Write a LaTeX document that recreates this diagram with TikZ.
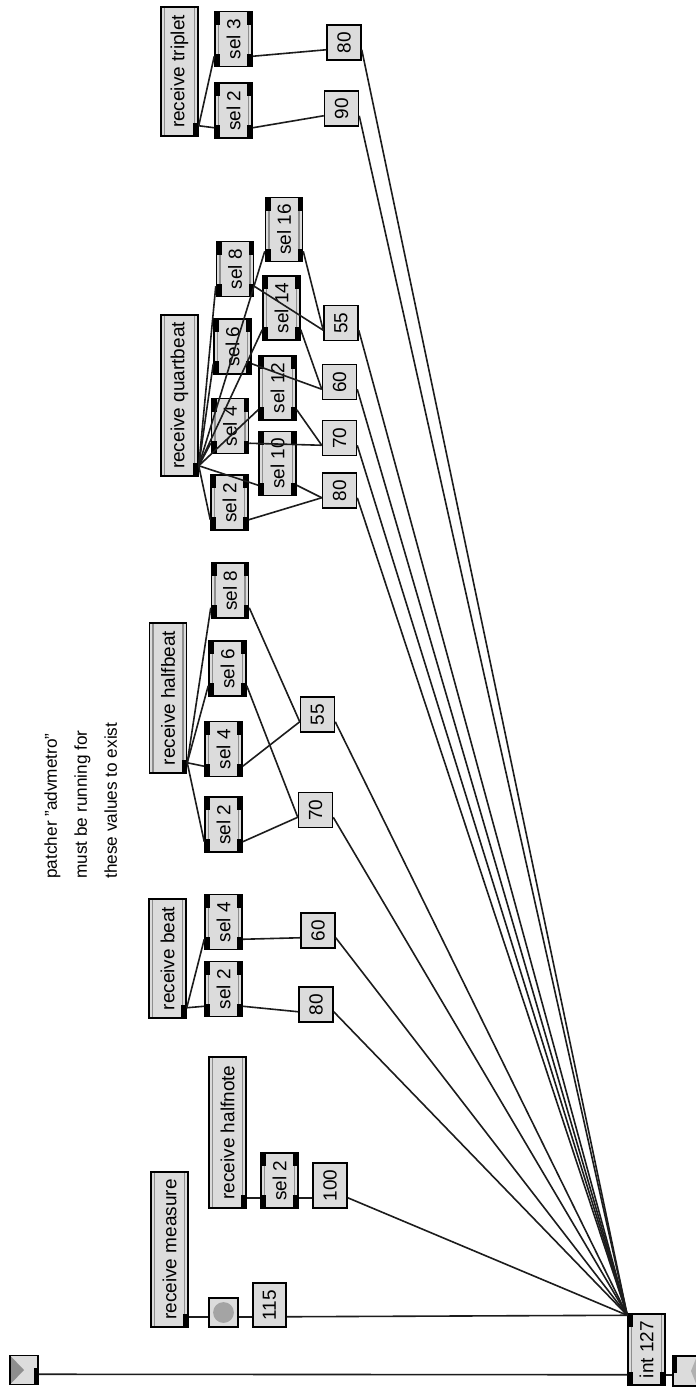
\documentclass[tikz,border=0pt]{standalone}
\usepackage{fontspec}
\setmainfont{Liberation Sans}
\usepackage{graphicx}
\usetikzlibrary{positioning,calc}
\definecolor{boxgray}{HTML}{DCDCDC}
\definecolor{stripe}{HTML}{8E8E8E}
\definecolor{knob}{HTML}{A4A4A4}
\definecolor{wirec}{HTML}{1C1C1C}
\newcommand{\rot}[1]{\rotatebox{90}{#1}}
% outlet / inlet points of a patcher box (box drawn turned by 90 degrees)
\newcommand{\outp}[1]{([yshift=5.5pt]#1.south east)}
\newcommand{\inp}[1]{([yshift=5.5pt]#1.south west)}
\newcommand{\ppb}{path picture bounding box}
\newcommand{\stripes}{\draw[stripe,line width=0.7pt] ([xshift=1.8pt]\ppb.north west) -- ([xshift=1.8pt]\ppb.south west)
  ([xshift=-1.8pt]\ppb.north east) -- ([xshift=-1.8pt]\ppb.south east);}
\newcommand{\portTL}{\fill[black] (\ppb.north west) rectangle ++(5,13);}
\newcommand{\portBL}{\fill[black] (\ppb.south west) rectangle ++(5,-13);}
\newcommand{\portTR}{\fill[black] (\ppb.north east) rectangle ++(-5,13);}
\newcommand{\portBR}{\fill[black] (\ppb.south east) rectangle ++(-5,-13);}
\tikzset{
  obj/.style={draw=black,fill=boxgray,line width=0.75pt,inner sep=0pt,font=\fontsize{9.5}{10}\selectfont},
  recv/.style={obj,minimum width=18.5pt,path picture={\stripes\portBR}},
  selbox/.style={obj,minimum width=18.5pt,minimum height=27.5pt,path picture={\stripes\portTL\portBL\portTR\portBR}},
  intbox/.style={obj,minimum width=18.5pt,minimum height=35.5pt,path picture={\stripes\portTL\portBL\portBR}},
  num/.style={obj,minimum width=17pt,minimum height=17.5pt},
  btn/.style={obj,minimum size=14.5pt,path picture={\fill[knob] (\ppb.center) circle (5.2pt);}},
  inlt/.style={obj,minimum width=14pt,minimum height=14.5pt,path picture={
      \fill[stripe] (\ppb.north west) -- (\ppb.center) -- (\ppb.south west) -- cycle;
      \fill[black] (\ppb.south east) rectangle ++(-4,-17);}},
  outlt/.style={obj,minimum width=14pt,minimum height=15pt,path picture={
      \fill[stripe!70] ([xshift=-2pt]\ppb.north east) -- ([xshift=2pt]\ppb.center) -- ([xshift=-2pt]\ppb.south east) -- cycle;
      \fill[black] (\ppb.north west) rectangle ++(4,17);}},
  note/.style={font=\fontsize{8.6}{15}\selectfont,align=left,inner sep=0pt},
  wire/.style={draw=wirec,line width=0.8pt},
}
\begin{document}
\begin{tikzpicture}[x=0.5pt,y=-0.5pt]
\path[use as bounding box,fill=white] (0,0) rectangle (696,1387);

% ---- comment
\node[note,rotate=90,anchor=north west] (note) at (44,879) {patcher "advmetro"\\must be running for\\these values to exist};

% ---- in / out
\node[inlt] (inl) at (24,1370) {};
\node[intbox] (i127) at (646.5,1349.5) {\rot{int 127}};
\node[outlt] (outl) at (687,1371) {};

% ---- measure, halfnote
\node[recv,minimum height=77.5pt] (rmeas) at (169.5,1249.5) {\rot{receive measure}};
\node[btn] (bang) at (223.5,1312.5) {};
\node[num,minimum width=16.5pt,minimum height=22pt] (n115) at (269.5,1305) {\rot{115}};
\node[recv,minimum height=75.5pt] (rhalfn) at (227.5,1132.5) {\rot{receive halfnote}};
\node[selbox] (hn2) at (279.5,1180.5) {\rot{sel 2}};
\node[num,minimum height=22.5pt] (n100) at (330,1185.5) {\rot{100}};

% ---- beat
\node[recv,minimum height=59.5pt] (rbeat) at (167.5,958.5) {\rot{receive beat}};
\node[selbox] (b2) at (223.5,989) {\rot{sel 2}};
\node[selbox] (b4) at (223.5,922) {\rot{sel 4}};
\node[num] (b80) at (316,1004.5) {\rot{80}};
\node[num] (b60) at (318,930.5) {\rot{60}};

% ---- halfbeat
\node[recv,minimum height=75pt] (rhalfb) at (168,698) {\rot{receive halfbeat}};
\node[selbox] (hb8) at (230,590.5) {\rot{sel 8}};
\node[selbox] (hb6) at (227.5,668.5) {\rot{sel 6}};
\node[selbox] (hb4) at (223.5,749) {\rot{sel 4}};
\node[selbox] (hb2) at (223.5,824.5) {\rot{sel 2}};
\node[num] (hb55) at (317.5,714.5) {\rot{55}};
\node[num] (hb70) at (315.5,810) {\rot{70}};

% ---- quartbeat
\node[recv,minimum height=80.5pt] (rquart) at (179.5,395.5) {\rot{receive quartbeat}};
\node[selbox] (q8) at (235,269) {\rot{sel 8}};
\node[selbox] (q6) at (232.5,346.5) {\rot{sel 6}};
\node[selbox] (q4) at (230,426) {\rot{sel 4}};
\node[selbox] (q2) at (229.5,502.5) {\rot{sel 2}};
\node[selbox,minimum height=32pt] (q16) at (284,229.5) {\rot{sel 16}};
\node[selbox,minimum height=32pt] (q14) at (281.5,308) {\rot{sel 14}};
\node[selbox,minimum height=32pt] (q12) at (277.5,388) {\rot{sel 12}};
\node[selbox,minimum height=32pt] (q10) at (277.5,463.5) {\rot{sel 10}};
\node[num] (q55) at (341,323) {\rot{55}};
\node[num] (q60) at (339.5,382) {\rot{60}};
\node[num] (q70) at (339.5,438) {\rot{70}};
\node[num] (q80) at (339.5,490.5) {\rot{80}};

% ---- triplet
\node[recv,minimum height=64.5pt] (rtrip) at (179.5,71.5) {\rot{receive triplet}};
\node[selbox] (t3) at (233.5,39) {\rot{sel 3}};
\node[selbox] (t2) at (233.5,110.5) {\rot{sel 2}};
\node[num] (t80) at (344,42.5) {\rot{80}};
\node[num] (t90) at (341.5,108.5) {\rot{90}};

% ---- cords
\coordinate (hot) at ([yshift=-1pt]i127.north west);
\coordinate (i127o) at ([yshift=5.5pt]i127.south east);
\draw[wire] \outp{inl} -- \inp{i127};
\draw[wire] (i127o) -- (i127o -| outl.west);
\draw[wire] \outp{rmeas} -- \inp{bang}; \draw[wire] \outp{bang} -- \inp{n115}; \draw[wire] \outp{n115} -- (hot);
\draw[wire] \outp{rhalfn} -- \inp{hn2}; \draw[wire] \outp{hn2} -- \inp{n100}; \draw[wire] \outp{n100} -- (hot);
\draw[wire] \outp{rbeat} -- \inp{b2}; \draw[wire] \outp{rbeat} -- \inp{b4};
\draw[wire] \outp{b2} -- \inp{b80}; \draw[wire] \outp{b4} -- \inp{b60};
\draw[wire] \outp{b80} -- (hot); \draw[wire] \outp{b60} -- (hot);
\draw[wire] \outp{rhalfb} -- \inp{hb2}; \draw[wire] \outp{rhalfb} -- \inp{hb4};
\draw[wire] \outp{rhalfb} -- \inp{hb6}; \draw[wire] \outp{rhalfb} -- \inp{hb8};
\draw[wire] \outp{hb8} -- \inp{hb55}; \draw[wire] \outp{hb4} -- \inp{hb55};
\draw[wire] \outp{hb6} -- \inp{hb70}; \draw[wire] \outp{hb2} -- \inp{hb70};
\draw[wire] \outp{hb55} -- (hot); \draw[wire] \outp{hb70} -- (hot);
\draw[wire] \outp{rquart} -- \inp{q2}; \draw[wire] \outp{rquart} -- \inp{q4};
\draw[wire] \outp{rquart} -- \inp{q6}; \draw[wire] \outp{rquart} -- \inp{q8};
\draw[wire] \outp{rquart} -- \inp{q10}; \draw[wire] \outp{rquart} -- \inp{q12};
\draw[wire] \outp{rquart} -- \inp{q14}; \draw[wire] \outp{rquart} -- \inp{q16};
\draw[wire] \outp{q2} -- \inp{q80}; \draw[wire] \outp{q10} -- \inp{q80};
\draw[wire] \outp{q4} -- \inp{q70}; \draw[wire] \outp{q12} -- \inp{q70};
\draw[wire] \outp{q6} -- \inp{q60}; \draw[wire] \outp{q14} -- \inp{q60};
\draw[wire] \outp{q8} -- \inp{q55}; \draw[wire] \outp{q16} -- \inp{q55};
\draw[wire] \outp{q80} -- (hot); \draw[wire] \outp{q70} -- (hot);
\draw[wire] \outp{q60} -- (hot); \draw[wire] \outp{q55} -- (hot);
\draw[wire] \outp{rtrip} -- \inp{t3}; \draw[wire] \outp{rtrip} -- \inp{t2};
\draw[wire] \outp{t3} -- \inp{t80}; \draw[wire] \outp{t2} -- \inp{t90};
\draw[wire] \outp{t80} -- (hot); \draw[wire] \outp{t90} -- (hot);

\end{tikzpicture}
\end{document}
